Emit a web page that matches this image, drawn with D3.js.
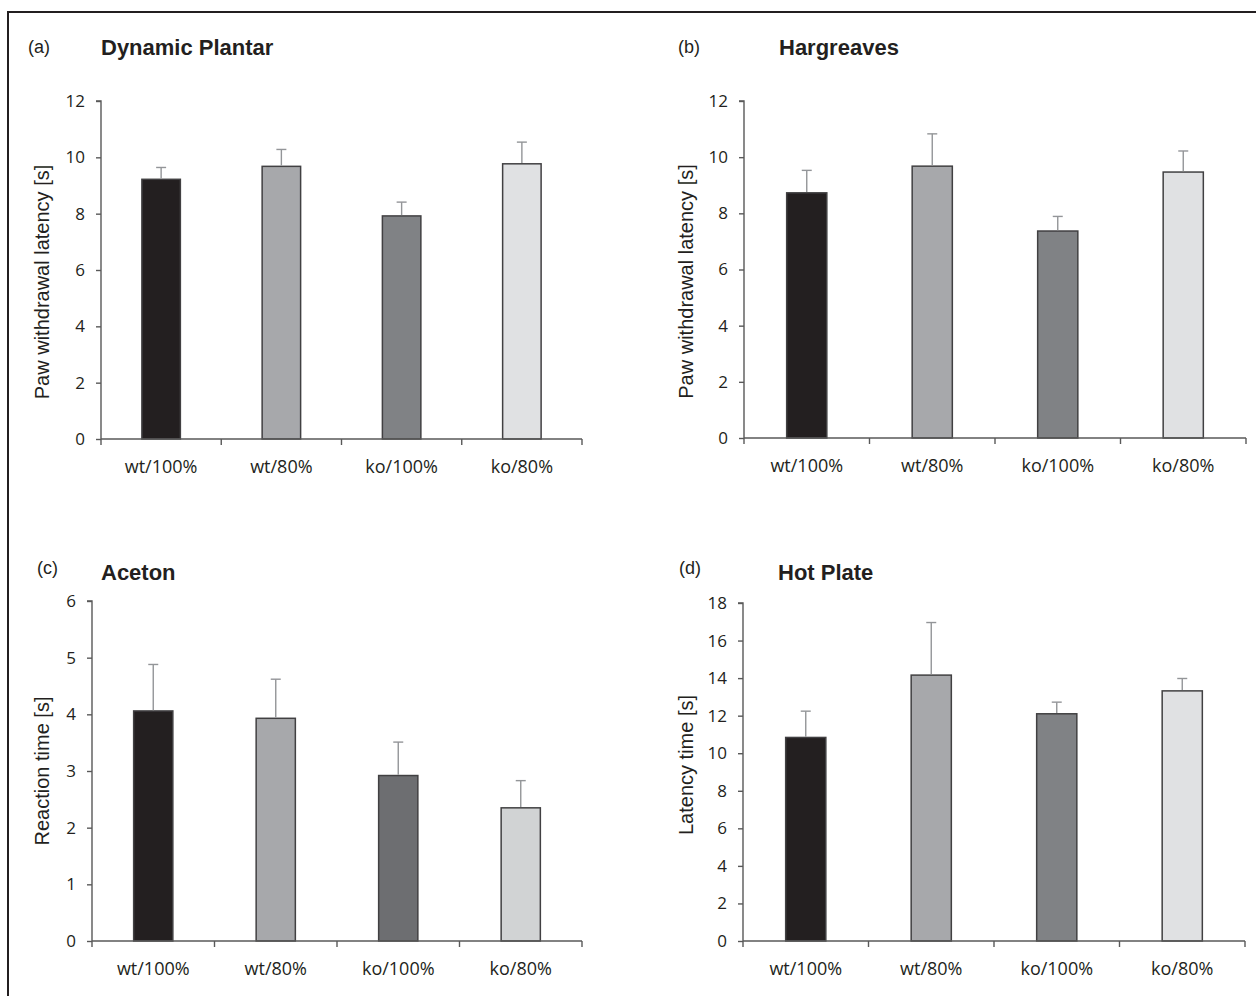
<!DOCTYPE html>
<html>
<head>
<meta charset="utf-8">
<script src="https://cdn.jsdelivr.net/npm/d3@7"></script>
<style>
  html, body { margin: 0; padding: 0; background: #fff; }
  svg { display: block; }
</style>
</head>
<body>
<svg id="chart" width="1256" height="996"></svg>
<script>
// Groups shared by all four tests
const categories = ["wt/100%", "wt/80%", "ko/100%", "ko/80%"];

// (a) Dynamic Plantar — paw withdrawal latency [s]
const plantarMeans = [9.22, 9.68, 7.92, 9.77];
const plantarErrors = [0.42, 0.60, 0.49, 0.77];
const plantarTicks = [0, 2, 4, 6, 8, 10, 12];

// (b) Hargreaves — paw withdrawal latency [s]
const hargreavesMeans = [8.73, 9.68, 7.37, 9.47];
const hargreavesErrors = [0.80, 1.15, 0.52, 0.75];
const hargreavesTicks = [0, 2, 4, 6, 8, 10, 12];

// (c) Aceton — reaction time [s]
const acetonMeans = [4.06, 3.93, 2.92, 2.35];
const acetonErrors = [0.82, 0.69, 0.59, 0.48];
const acetonTicks = [0, 1, 2, 3, 4, 5, 6];

// (d) Hot Plate — latency time [s]
const hotPlateMeans = [10.84, 14.16, 12.10, 13.32];
const hotPlateErrors = [1.40, 2.80, 0.62, 0.66];
const hotPlateTicks = [0, 2, 4, 6, 8, 10, 12, 14, 16, 18];

const colorsMain = ["#231f20", "#a7a8ab", "#808285", "#e0e1e3"];
const colorsAceton = ["#231f20", "#a7a8ab", "#6d6e71", "#d1d3d4"];

const svg = d3.select("#chart");

// page frame (top and left edges)
svg.append("path")
  .attr("d", "M8,996 V12 H1256")
  .attr("fill", "none")
  .attr("stroke", "#231f20")
  .attr("stroke-width", 2);

const panels = [
  { letter: "(a)", title: "Dynamic Plantar", ylabel: "Paw withdrawal latency [s]",
    means: plantarMeans, errors: plantarErrors, ticks: plantarTicks, colors: colorsMain,
    x0: 101, x1: 582, yTop: 101, yBot: 439,
    letterX: 28, letterY: 53, titleX: 101, titleY: 55, ylabelX: 49, ylabelDy: 12 },
  { letter: "(b)", title: "Hargreaves", ylabel: "Paw withdrawal latency [s]",
    means: hargreavesMeans, errors: hargreavesErrors, ticks: hargreavesTicks, colors: colorsMain,
    x0: 744, x1: 1246, yTop: 101, yBot: 438,
    letterX: 678, letterY: 53, titleX: 779, titleY: 55, ylabelX: 693, ylabelDy: 12 },
  { letter: "(c)", title: "Aceton", ylabel: "Reaction time [s]",
    means: acetonMeans, errors: acetonErrors, ticks: acetonTicks, colors: colorsAceton,
    x0: 92, x1: 582, yTop: 601, yBot: 941,
    letterX: 37, letterY: 574, titleX: 101, titleY: 580, ylabelX: 49, ylabelDy: 0 },
  { letter: "(d)", title: "Hot Plate", ylabel: "Latency time [s]",
    means: hotPlateMeans, errors: hotPlateErrors, ticks: hotPlateTicks, colors: colorsMain,
    x0: 743, x1: 1245, yTop: 603, yBot: 941,
    letterX: 679, letterY: 574, titleX: 778, titleY: 580, ylabelX: 693, ylabelDy: -7 }
];

panels.forEach(p => {
  const g = svg.append("g");
  const yMax = p.ticks[p.ticks.length - 1];

  const x = d3.scaleBand().domain(categories).range([p.x0, p.x1]).paddingInner(0).paddingOuter(0);
  const y = d3.scaleLinear().domain([0, yMax]).range([p.yBot, p.yTop]);
  const barW = x.bandwidth() * 0.32;

  // panel letter and title
  g.append("text")
    .attr("x", p.letterX).attr("y", p.letterY)
    .attr("font-family", "Liberation Sans, Arial, sans-serif")
    .attr("font-size", 18).attr("fill", "#231f20")
    .text(p.letter);
  g.append("text")
    .attr("x", p.titleX).attr("y", p.titleY)
    .attr("font-family", "Liberation Sans, Arial, sans-serif")
    .attr("font-size", 22).attr("font-weight", "bold").attr("fill", "#231f20")
    .text(p.title);

  // y-axis label
  g.append("text")
    .attr("transform", `translate(${p.ylabelX},${(p.yTop + p.yBot) / 2 + p.ylabelDy}) rotate(-90)`)
    .attr("text-anchor", "middle")
    .attr("font-family", "Liberation Sans, Arial, sans-serif")
    .attr("font-size", 20).attr("fill", "#231f20")
    .text(p.ylabel);

  // bars
  g.selectAll("rect.bar").data(p.means).join("rect")
    .attr("class", "bar")
    .attr("x", (d, i) => x(categories[i]) + (x.bandwidth() - barW) / 2)
    .attr("y", d => y(d))
    .attr("width", barW)
    .attr("height", d => y(0) - y(d))
    .attr("fill", (d, i) => p.colors[i])
    .attr("stroke", "#414042")
    .attr("stroke-width", 1.5);

  // error bars (upper only)
  const eb = g.selectAll("g.err").data(p.means).join("g").attr("class", "err");
  eb.append("line")
    .attr("x1", (d, i) => x(categories[i]) + x.bandwidth() / 2)
    .attr("x2", (d, i) => x(categories[i]) + x.bandwidth() / 2)
    .attr("y1", d => y(d) - 0.8)
    .attr("y2", (d, i) => y(d + p.errors[i]))
    .attr("stroke", "#939598").attr("stroke-width", 1.4);
  eb.append("line")
    .attr("x1", (d, i) => x(categories[i]) + x.bandwidth() / 2 - 5)
    .attr("x2", (d, i) => x(categories[i]) + x.bandwidth() / 2 + 5)
    .attr("y1", (d, i) => y(d + p.errors[i]))
    .attr("y2", (d, i) => y(d + p.errors[i]))
    .attr("stroke", "#939598").attr("stroke-width", 1.4);

  // y axis
  const yAxis = d3.axisLeft(y).tickValues(p.ticks).tickSize(5).tickPadding(11).tickFormat(d3.format("d"));
  const ya = g.append("g").attr("transform", `translate(${p.x0},0)`).call(yAxis);
  ya.select(".domain").attr("d", `M-5,${p.yTop}H0V${p.yBot}`).attr("stroke", "#595959").attr("stroke-width", 1.4);
  ya.selectAll(".tick line").attr("stroke", "#595959").attr("stroke-width", 1.4);
  ya.selectAll(".tick text")
    .attr("font-family", "Open Sans, sans-serif").attr("font-size", 17).attr("fill", "#231f20");

  // x axis with ticks at band boundaries
  const xa = g.append("g").attr("transform", `translate(0,${p.yBot})`);
  xa.append("line").attr("x1", p.x0).attr("x2", p.x1).attr("stroke", "#595959").attr("stroke-width", 1.4);
  const bounds = categories.map(c => x(c)).concat([p.x1]);
  xa.selectAll("line.bt").data(bounds).join("line")
    .attr("class", "bt")
    .attr("x1", d => d).attr("x2", d => d).attr("y1", 0).attr("y2", 6)
    .attr("stroke", "#595959").attr("stroke-width", 1.4);
  xa.selectAll("text").data(categories).join("text")
    .attr("x", d => x(d) + x.bandwidth() / 2)
    .attr("y", 34)
    .attr("text-anchor", "middle")
    .attr("font-family", "Open Sans, sans-serif").attr("font-size", 18).attr("fill", "#231f20")
    .text(d => d);
});
</script>
</body>
</html>
